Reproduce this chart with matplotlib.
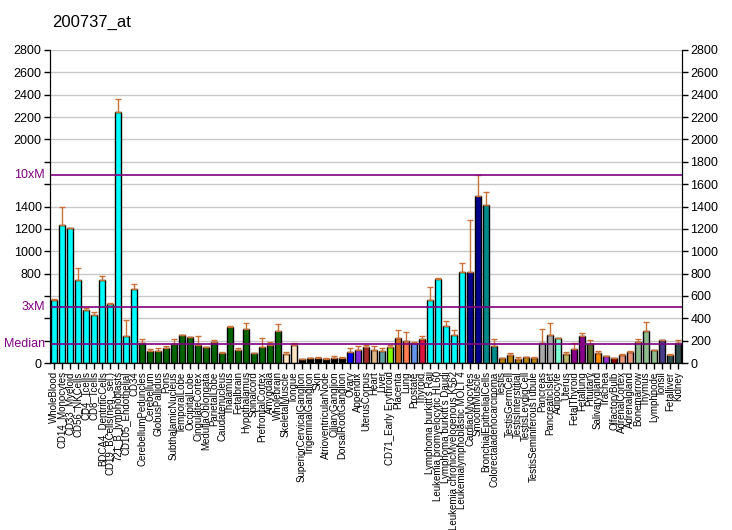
import numpy as np
import matplotlib.pyplot as plt

plt.rcParams['font.family'] = ['Liberation Sans', 'DejaVu Sans']

# -----------------------------
# Data
# -----------------------------
tissues = [
    "WholeBlood", "CD14_Monocytes", "CD33_Myeloid", "CD56_NKCells", "CD4_Tcells",
    "CD8_Tcells", "BDCA4_DentriticCells", "CD19_BCells(neg._sel.)", "721_B_lymphoblasts",
    "CD105_Endothelial", "CD34", "CerebellumPeduncles", "Cerebellum", "GlobusPallidus",
    "Pons", "SubthalamicNucleus", "TemporalLobe", "OccipitalLobe", "CingulateCortex",
    "MedullaOblongata", "ParietalLobe", "Caudatenucleus", "Thalamus", "Fetalbrain",
    "Hypothalamus", "Spinalcord", "PrefrontalCortex", "Amygdala", "Wholebrain",
    "SkeletalMuscle", "Tongue", "SuperiorCervicalGanglion", "TrigeminalGanglion", "Skin",
    "AtrioventricularNode", "CiliaryGanglion", "DorsalRootGanglion", "Ovary", "Appendix",
    "UterusCorpus", "Heart", "Liver", "CD71_Early Erythroid", "Placenta", "Lung",
    "Prostate", "Thyroid", "Lymphoma burkitt's Raji", "Leukemia promyelocytic HL60",
    "Lymphoma burkitt's Daudi", "Leukemia chronicMyelogenous K562",
    "Leukemialymphoblastic MOLT 4", "CardiacMyocytes", "SmoothMuscle",
    "BronchialEpithelialCells", "Colorectaladenocarcinoma", "Testis", "TestisGermCell",
    "TestisInterstitial", "TestisLeydigCell", "TestisSeminiferousTubule", "Pancreas",
    "PancreaticIslet", "Adipocyte", "Uterus", "FetalThyroid", "Fetallung", "Pituitary",
    "Salivarygland", "Trachea", "OlfactoryBulb", "AdrenalCortex", "Adrenalgland",
    "Bonemarrow", "Thymus", "Lymphnode", "Tonsil", "Fetalliver", "Kidney",
]

values = [
    564, 1236, 1209, 743, 475, 433, 743, 528, 2242, 242, 666,
    179, 110, 110, 134, 167, 254, 230, 164, 143, 191, 93, 325, 119, 307, 93, 143, 164, 290,
    84, 164, 33, 48, 48, 39, 48, 48, 101, 119, 143, 119, 110, 143, 227, 200, 182, 218,
    564, 755, 331, 251, 815, 815, 1495, 1415, 152, 45, 72, 36, 54, 45, 179, 251, 224,
    81, 125, 242, 170, 90, 63, 45, 72, 101, 188, 287, 116, 206, 75, 179,
]

err_top = [
    573, 1397, 1209, 851, 492, 457, 779, 534, 2358, 385, 707,
    215, 125, 134, 152, 215, 254, 233, 242, 143, 206, 101, 331, 134, 358, 93, 224, 188, 352,
    101, 179, 39, 48, 57, 48, 63, 57, 134, 152, 161, 152, 134, 161, 296, 278, 188, 242,
    684, 764, 376, 296, 896, 1281, 1678, 1531, 215, 45, 90, 54, 54, 54, 304, 358, 224,
    99, 179, 269, 206, 107, 63, 45, 81, 107, 215, 367, 116, 206, 81, 206,
]

colors = (
    ["#00FFFF"] * 11 + ["#006400"] * 18 + ["#FFE4C4"] * 2 + ["#000000"] * 6
    + ["#0000FF", "#8A2BE2", "#A52A2A", "#DEB887", "#5F9EA0", "#7FFF00", "#D2691E",
       "#FF7F50", "#6495ED", "#DC143C"]
    + ["#00FFFF"] * 5 + ["#00008B"] * 2 + ["#008B8B"] * 2 + ["#B8860B"] * 5
    + ["#A9A9A9"] * 2 + ["#7FFFD4", "#BDB76B", "#8B008B", "#8B008B", "#556B2F",
                         "#FF8C00", "#9932CC", "#8B0000", "#E9967A", "#E9967A"]
    + ["#8FBC8F"] * 3 + ["#483D8B"] + ["#2F4F4F"] * 2
)

median = 168
ylim_top = 2800

# -----------------------------
# Figure
# -----------------------------
fig = plt.figure(figsize=(7.32, 5.30), dpi=100)
ax = fig.add_axes([50 / 732, 1 - 363 / 530, 632 / 732, 313 / 530])

n = len(tissues)
x = np.arange(n)
vals = np.array(values)
errs = np.array(err_top) - vals

for y in range(200, ylim_top + 1, 200):
    ax.axhline(y, color="#C8C8C8", lw=1, zorder=0)

ax.bar(x, vals, width=0.75, color=colors, edgecolor="black", linewidth=1, zorder=2)
ax.errorbar(x, vals, yerr=[np.zeros(n), errs], fmt="none", ecolor="#C87137",
            elinewidth=1, capsize=2.5, capthick=1, zorder=3)

for lvl in (median, 3 * median, 10 * median):
    ax.axhline(lvl, color="#800080", lw=1.2, zorder=4)

ax.set_xlim(-0.5, n - 0.5)
ax.set_ylim(0, ylim_top)

# left axis: numbers with labels close to the median lines hidden
special = {median: "Median", 3 * median: "3xM", 10 * median: "10xM"}
ticks = list(range(0, ylim_top + 1, 200))
labels = []
for t in ticks:
    if any(abs(t - s) < 130 for s in special):
        labels.append("")
    else:
        labels.append(str(t))
ax.set_yticks(ticks)
ax.set_yticklabels(labels, fontsize=9)
for s, name in special.items():
    ax.text(-0.008, s, name, transform=ax.get_yaxis_transform(), ha="right",
            va="center", color="#800080", fontsize=9)

ax2 = ax.twinx()
ax2.set_ylim(0, ylim_top)
ax2.set_yticks(ticks)
ax2.set_yticklabels([str(t) for t in ticks], fontsize=9)

for a in (ax, ax2):
    a.tick_params(axis="y", length=4, width=1, pad=2)
    a.spines["top"].set_visible(False)

ax.set_xticks(x)
ax.set_xticklabels(tissues, rotation=90, fontsize=7)
ax.tick_params(axis="x", length=4, width=1, pad=2)

fig.text(52 / 732, 1 - 22 / 530, "200737_at", fontsize=12, va="center", ha="left")

fig.savefig("out.png", dpi=100)
